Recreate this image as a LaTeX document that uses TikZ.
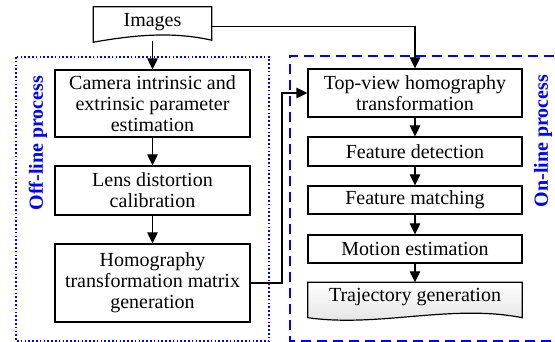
\documentclass[tikz,border=0pt]{standalone}
\usepackage{fontspec}
\setmainfont{Liberation Serif}
\usetikzlibrary{arrows.meta}
\begin{document}
\begin{tikzpicture}[x=1pt,y=-1pt,
  font=\fontsize{20}{21}\selectfont,
  stepbox/.style={draw, line width=1.2pt, align=center, inner sep=0pt},
  flow/.style={line width=1.2pt, -{Triangle[length=11pt,width=10.5pt]}},
  link/.style={line width=1.2pt},
  group/.style={blue, line width=1.6pt},
  grouplabel/.style={blue, font=\fontsize{20}{21}\selectfont\bfseries, rotate=90}
]
\useasboundingbox (0,0) rectangle (555,342);

% process groups
\draw[group, dash pattern=on 1.6pt off 2.2pt] (16,57) rectangle (269,341);
\draw[group, dash pattern=on 10pt off 6pt] (570,56) -- (290,56) -- (290,341) -- (570,341);
\node[grouplabel] (offl) at (38,143) {Off-line process};
\node[grouplabel] (onl) at (543,141) {On-line process};

% input document
\node[inner sep=0pt, minimum width=118pt, minimum height=34pt] (img) at (152.5,24) {};
\draw[link, fill=white] ([yshift=-1pt]img.south west) -- (img.north west) -- (img.north east)
  -- ([yshift=1pt]img.south east)
  .. controls +(-40,-9) and +(40,-7) .. ([yshift=-1pt]img.south west) -- cycle;
\node[inner sep=0pt] at ([yshift=1.5pt]img.center) {Images};

% off-line steps
\node[stepbox, minimum width=195pt, minimum height=67pt] (cam) at (152.5,103.5)
  {Camera intrinsic and\\extrinsic parameter\\estimation};
\node[stepbox, minimum width=195pt, minimum height=49pt] (lens) at (152.5,190.5)
  {Lens distortion\\calibration};
\node[stepbox, minimum width=195pt, minimum height=78pt] (homo) at (152.5,283)
  {Homography\\transformation matrix\\generation};

% on-line steps
\node[stepbox, minimum width=214pt, minimum height=48pt] (top) at (415,93)
  {Top-view homography\\transformation};
\node[stepbox, minimum width=214pt, minimum height=29pt] (det) at (415,151.5)
  {Feature detection};
\node[stepbox, minimum width=214pt, minimum height=28pt] (mat) at (415,200)
  {Feature matching};
\node[stepbox, minimum width=214pt, minimum height=28pt] (mot) at (415,249)
  {Motion estimation};

% output document
\node[inner sep=0pt, minimum width=214pt, minimum height=35pt] (traj) at (415,300) {};
\draw[link, top color=white, bottom color=black!12]
  (traj.south west) -- (traj.north west) -- (traj.north east) -- (traj.south east)
  .. controls +(-71,-14) and +(71,10) .. (traj.south west) -- cycle;
\node[inner sep=0pt] at ([yshift=3pt]traj.center) {Trajectory generation};

% connectors
\draw[flow] (img.south) -- (cam.north);
\draw[flow] (cam) -- (lens);
\draw[flow] (lens) -- (homo);
\draw[flow] ([yshift=-2.5pt]img.east) -| (top.north);
\coordinate (bend) at (282,283);
\draw[flow] (homo.east) -- (bend) |- (top.west);
\draw[flow] (top) -- (det);
\draw[flow] (det) -- (mat);
\draw[flow] (mat) -- (mot);
\draw[flow] (mot) -- (traj.north);
\end{tikzpicture}
\end{document}
